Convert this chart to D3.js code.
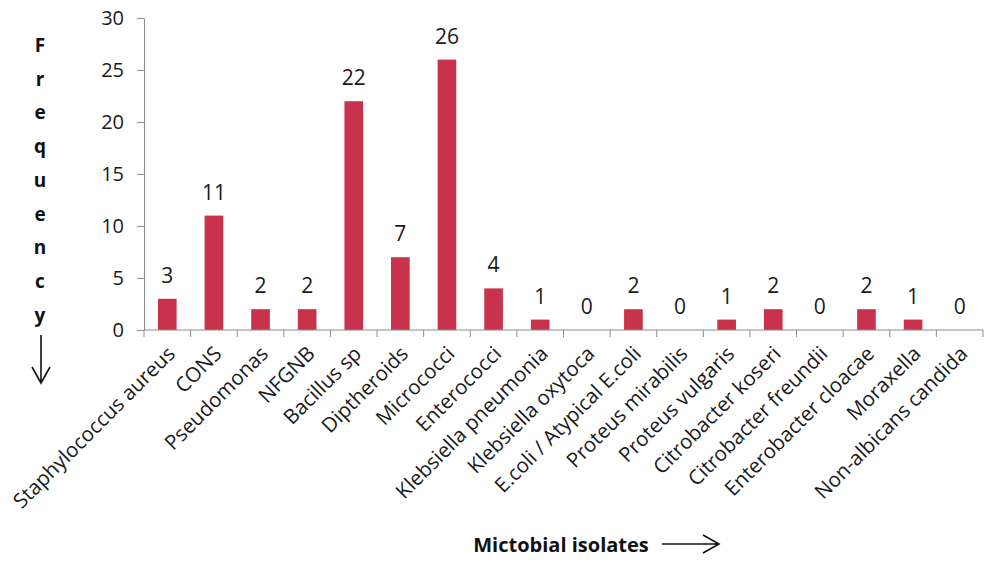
<!DOCTYPE html>
<html><head><meta charset="utf-8">
<script src="https://cdn.jsdelivr.net/npm/d3@7"></script>
<style>body{margin:0;background:#fff}svg{display:block}</style>
</head><body>
<svg id="c" width="990" height="562"></svg>
<script>
const categories = ["Staphylococcus aureus","CONS","Pseudomonas","NFGNB","Bacillus sp","Diptheroids","Micrococci","Enterococci","Klebsiella pneumonia","Klebsiella oxytoca","E.coli / Atypical E.coli","Proteus mirabilis","Proteus vulgaris","Citrobacter koseri","Citrobacter freundii","Enterobacter cloacae","Moraxella","Non-albicans candida"];
const values = [3,11,2,2,22,7,26,4,1,0,2,0,1,2,0,2,1,0];
const yTicks = [0,5,10,15,20,25,30];
const yTitle = "Frequency";
const xTitle = "Mictobial isolates";

(function(){
const font = "'Open Sans', sans-serif";
const svg = d3.select("#c");
const mLeft = 144, mRight = 983, mTop = 18, mBottom = 330;
const x = d3.scaleBand().domain(categories).range([mLeft, mRight]).paddingInner(0.6).paddingOuter(0.3);
const y = d3.scaleLinear().domain([0,30]).range([mBottom, mTop]);
const axisColor = "#8c8c8c";

// y axis
const ya = svg.append("g").attr("transform", `translate(${mLeft},0)`)
  .call(d3.axisLeft(y).tickValues(yTicks).tickSize(7).tickPadding(13));
ya.select(".domain").attr("stroke", axisColor);
ya.selectAll(".tick line").attr("stroke", axisColor);
ya.selectAll(".tick text").attr("font-family", font).attr("font-size", 20).attr("fill", "#1a1a1a");

// bars
svg.append("g").selectAll("rect").data(values).join("rect")
  .attr("x", (d,i) => x(categories[i]))
  .attr("width", x.bandwidth())
  .attr("y", d => y(d))
  .attr("height", d => y(0) - y(d))
  .attr("fill", "#c8334b");

// value labels
svg.append("g").selectAll("text").data(values).join("text")
  .attr("x", (d,i) => x(categories[i]) + x.bandwidth()/2)
  .attr("y", d => y(d) - 16)
  .attr("text-anchor", "middle")
  .attr("font-family", font).attr("font-size", 21).attr("fill", "#1a1a1a")
  .text(d => d);

// x axis
const step = x.step();
const xa = svg.append("g").attr("transform", `translate(0,${mBottom})`);
xa.append("line").attr("x1", mLeft).attr("x2", mRight).attr("stroke", axisColor);
xa.selectAll("line.t").data(d3.range(categories.length+1)).join("line").attr("class","t")
  .attr("x1", i => mLeft + i*step).attr("x2", i => mLeft + i*step)
  .attr("y1", 0).attr("y2", 7).attr("stroke", axisColor);
xa.selectAll("text").data(categories).join("text")
  .attr("transform", d => `translate(${x(d)+x.bandwidth()/2+9},25) rotate(-45)`)
  .attr("text-anchor", "end")
  .attr("font-family", font).attr("font-size", 20.5).attr("fill", "#1a1a1a")
  .text(d => d);

// y title, stacked letters
svg.append("g").selectAll("text").data(yTitle.split("")).join("text")
  .attr("x", 40).attr("y", (d,i) => 52 + i*33.7)
  .attr("text-anchor", "middle")
  .attr("font-family", font).attr("font-weight", "bold").attr("font-size", 19).attr("fill", "#111")
  .text(d => d);
svg.append("path").attr("d", "M41,335 V383 M32,367 L41,383 L50,367")
  .attr("stroke", "#111").attr("stroke-width", 1.6).attr("fill", "none");

// x title
svg.append("text").attr("x", 561).attr("y", 552).attr("text-anchor", "middle")
  .attr("font-family", font).attr("font-weight", "bold").attr("font-size", 20).attr("fill", "#111")
  .text(xTitle);
svg.append("path").attr("d", "M662,544 H719 M703,535 L719,544 L703,553")
  .attr("stroke", "#111").attr("stroke-width", 1.6).attr("fill", "none");
})();
</script>
</body></html>
